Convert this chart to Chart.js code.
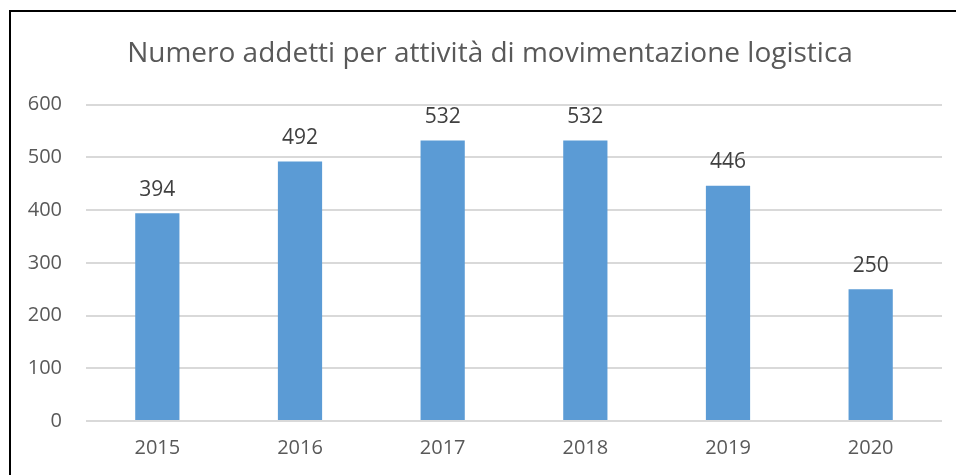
<!DOCTYPE html>
<html>
<head>
<meta charset="utf-8">
<script src="https://cdn.jsdelivr.net/npm/chart.js@4/dist/chart.umd.min.js"></script>
<style>
  html, body { margin: 0; padding: 0; background: #fff; }
  #wrap { position: relative; width: 956px; height: 475px; }
</style>
</head>
<body>
<div id="wrap"><canvas id="addettiChart" width="956" height="475"></canvas></div>
<script>
// dati
const anni = ['2015', '2016', '2017', '2018', '2019', '2020'];
const addetti = [394, 492, 532, 532, 446, 250];
const tickValori = [0, 100, 200, 300, 400, 500, 600];

const FONT = "'Open Sans', sans-serif";

// cornice nera (bordo sinistro e superiore)
const cornice = {
    id: 'cornice',
    afterDraw(chart) {
        const ctx = chart.ctx;
        ctx.save();
        ctx.strokeStyle = '#000';
        ctx.lineWidth = 2;
        ctx.beginPath();
        ctx.moveTo(10, 475);
        ctx.lineTo(10, 11);
        ctx.lineTo(956, 11);
        ctx.stroke();
        ctx.restore();
    }
};

// etichette dei valori sopra le barre
const etichette = {
    id: 'etichette',
    afterDatasetsDraw(chart) {
        const ctx = chart.ctx;
        const meta = chart.getDatasetMeta(0);
        ctx.save();
        ctx.font = '21px ' + FONT;
        ctx.fillStyle = '#404040';
        ctx.textAlign = 'center';
        ctx.textBaseline = 'bottom';
        meta.data.forEach((bar, i) => {
            ctx.fillText(String(addetti[i]), bar.x, bar.y - 13);
        });
        ctx.restore();
    }
};

const ctx = document.getElementById('addettiChart').getContext('2d');
new Chart(ctx, {
    type: 'bar',
    data: {
        labels: anni,
        datasets: [{
            data: addetti,
            backgroundColor: '#5B9BD5',
            borderWidth: 0,
            categoryPercentage: 1,
            barPercentage: 0.31
        }]
    },
    options: {
        responsive: false,
        animation: false,
        layout: { padding: { top: 20, right: 0, bottom: 0, left: 24 } },
        plugins: {
            legend: { display: false },
            tooltip: { enabled: false },
            title: {
                display: true,
                text: 'Numero addetti per attività di movimentazione logistica',
                color: '#595959',
                font: { family: FONT, size: 28, weight: 'normal' },
                padding: { top: 17, bottom: 34 }
            }
        },
        scales: {
            x: {
                grid: { display: false, drawTicks: false },
                border: { display: false },
                ticks: { color: '#595959', font: { family: FONT, size: 20 }, padding: 15 }
            },
            y: {
                min: 0,
                max: 600,
                afterFit(scale) { scale.width = 62; },
                afterBuildTicks(scale) { scale.ticks = tickValori.map(v => ({ value: v })); },
                grid: { color: '#D9D9D9', lineWidth: 2, drawTicks: false },
                border: { display: false },
                ticks: { color: '#595959', font: { family: FONT, size: 20 }, padding: 24 }
            },
            // margine destro vuoto
            destra: {
                type: 'linear',
                position: 'right',
                afterFit(scale) { scale.width = 14; },
                grid: { display: false, drawTicks: false },
                border: { display: false },
                ticks: { display: false }
            }
        }
    },
    plugins: [cornice, etichette]
});
</script>
</body>
</html>
